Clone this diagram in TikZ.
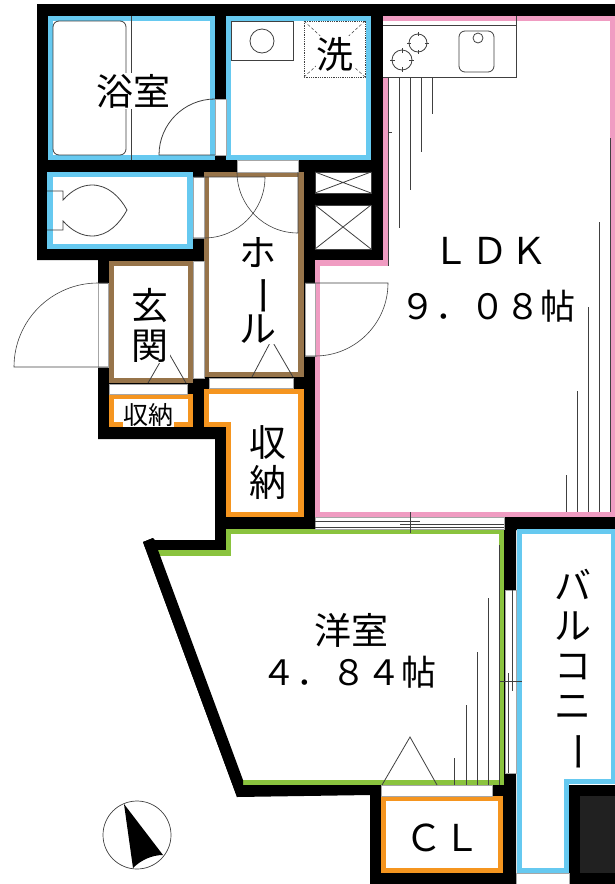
\documentclass[tikz,border=0pt]{standalone}
\usepackage{fontspec}
\usepackage{graphicx}
\setmainfont{Noto Sans CJK JP}
\newcommand{\lbl}{\fontsize{37}{40}\selectfont}
\newcommand{\lblsp}{\fontsize{37}{40}\selectfont\addfontfeature{LetterSpace=5}}
\newcommand{\vbar}{\vphantom{ル}\smash{\rotatebox[origin=c]{-90}{\scalebox{1.1}[1]{ー}}}}
\definecolor{wblue}{HTML}{66C9F0}
\definecolor{wpink}{HTML}{F09CC2}
\definecolor{wbrown}{HTML}{97744A}
\definecolor{worange}{HTML}{F5951F}
\definecolor{wgreen}{HTML}{8AC33E}
\tikzset{
  wall/.style={fill=black,draw=none},
  room/.style={fill=white,line width=5.5pt,miter limit=10},
  gap/.style={fill=white,draw=gray!70,line width=0.4pt},
  thin/.style={draw=black!75,line width=0.8pt},
  tag/.style={fill=white,inner sep=1pt,align=center,font=\lbl},
}
\begin{document}
\begin{tikzpicture}[x=1pt,y=-1pt]
\useasboundingbox (0,0) rectangle (615,884);
% walls
\fill[wall] (37,4) -- (615,4) -- (615,530) -- (516,530) -- (516,884) -- (370,884) -- (370,795) -- (237,797)
  -- (143,542) -- (153,538) -- (155,540) -- (215,540) -- (215,439) -- (98,439) -- (98,260) -- (37,260) -- cycle;
\fill[wall] (569,785) rectangle (615,884);
\fill[black!87] (580,796) rectangle (615,873);
% LDK
\draw[room,draw=wpink] (385.5,18.5) -- (612.5,18.5) -- (612.5,514.5) -- (317.5,514.5) -- (317.5,263) -- (385.5,263) -- cycle;
\fill[wpink] (611,16) rectangle (615,517);
\fill[wpink] (315,512) rectangle (615,517);
% bath, wash, toilet
\draw[room,draw=wblue] (50.5,18.5) rectangle (212.5,157.5);
\draw[room,draw=wblue] (228.5,18.5) rectangle (368.5,157.5);
\draw[room,draw=wblue] (50,174.5) rectangle (190,246.5);
% hall, entrance
\draw[room,draw=wbrown] (206.5,174.5) rectangle (301,374.5);
\draw[room,draw=wbrown] (111.5,263.5) rectangle (190.5,380.5);
% storages
\draw[room,draw=worange] (206.5,391.5) -- (301,391.5) -- (301,514.5) -- (228.5,514.5) -- (228.5,424.5) -- (206.5,424.5) -- cycle;
\draw[room,draw=worange] (111.5,396.5) rectangle (190.5,424.5);
\draw[room,draw=worange] (383.5,798.5) rectangle (500.5,870.5);
% western room
\fill[white] (158,553) -- (228.5,553) -- (228.5,531.5) -- (501.5,531.5) -- (501.5,782.5) -- (243,782.5) -- cycle;
\draw[line width=5.5pt,draw=wgreen,miter limit=10] (158,553) -- (228.5,553) -- (228.5,531.5) -- (501.5,531.5) -- (501.5,782.5) -- (243,782.5);
\fill[wall] (143,542) -- (153,538) -- (158,550) -- (243,780) -- (243,785) -- (237,797) -- cycle;
% balcony
\fill[white] (517,529) rectangle (615,785);
\fill[white] (517,785) rectangle (569,873);
\draw[wblue,line width=5.5pt,miter limit=10] (615,531.5) -- (519.5,531.5) -- (519.5,870.5) -- (566.5,870.5) -- (566.5,781.5) -- (615,781.5);
\fill[wblue] (611,529) rectangle (615,784);
\filldraw[white,draw=gray!70,line width=0.4pt] (516,873) rectangle (569,885);
% openings
\fill[gap] (215,99) rectangle (226,155);
\fill[gap] (237,160) rectangle (298,172);
\fill[gap] (193,177) rectangle (204,238);
\fill[gap] (193,261) rectangle (204,378);
\fill[gap] (98,283) rectangle (108,367);
\fill[gap] (305,283) rectangle (315,356);
\fill[gap] (209,378) rectangle (293,388);
\fill[gap] (109,384) rectangle (187,394);
\fill[gap] (381,785) rectangle (492,796);
\fill[gap] (505,590) rectangle (516,773);
\fill[gap] (315,517) rectangle (504,529);
% bath fittings
\draw[thin] (131,16) -- (131,160);
\draw[thin,rounded corners=6pt] (53,21) rectangle (126,155);
\draw[thin] (215,155) -- (159,155) arc[start angle=180,end angle=270,radius=56];
% wash fittings
\draw[thin] (231,21) rectangle (293,60);
\draw[thin] (262,41) circle[radius=12];
\draw[thin,densely dotted,line width=1pt] (304,21) rectangle (365,77);
\draw[thin,densely dashed,line width=0.5pt] (304,21) -- (365,77) (365,21) -- (304,77);
% toilet
\draw[thin] (47,191) -- (63,191) -- (63,200) .. controls (72,190) and (82,185) .. (92,185)
  .. controls (108,185) and (120,197) .. (127,210) .. controls (120,223) and (108,236) .. (92,236)
  .. controls (82,236) and (72,231) .. (63,221) -- (63,230) -- (47,230);
% closets
\draw[thin,fill=white] (315,172) rectangle (371,193);
\draw[thin] (315,172) -- (371,193) (371,172) -- (315,193);
\draw[thin,fill=white] (315,205) rectangle (371,249);
\draw[thin] (315,205) -- (371,249) (371,205) -- (315,249);
% door swings
\draw[thin,line width=0.6pt] (193,177) -- (265,177) arc[start angle=0,end angle=90,radius=61] -- (193,238);
\draw[thin,line width=0.6pt] (237,172) arc[start angle=180,end angle=90,radius=61] -- (298,172);
\draw[thin,line width=0.6pt] (108,367) -- (14,367) arc[start angle=180,end angle=270,radius=84] -- (108,283);
\draw[thin,line width=0.6pt] (305,283) -- (388,283) arc[start angle=0,end angle=90,radius=73] -- (305,356);
\draw[thin] (148,383) -- (167,350) -- (186,383);
\draw[thin] (252,377) -- (271.5,340) -- (293,377);
\draw[thin] (382,785) -- (410,737) -- (437,785);
% kitchen
\fill[white] (383,21) rectangle (516,77);
\draw[thin] (516,16) -- (516,77) -- (383,77);
\draw[thin] (383,25) -- (516,25);
\draw[thin,rounded corners=6pt] (459,31) rectangle (494,72);
\draw[thin] (478,38) circle[radius=5];
\draw[thin] (418,43) circle[radius=9];
\draw[thin] (402,60) circle[radius=10];
\draw[thin] (407,43) -- (411,43) (425,43) -- (429,43) (418,32) -- (418,36) (418,50) -- (418,54)
  (390,60) -- (395,60) (409,60) -- (414,60) (402,48) -- (402,53) (402,67) -- (402,72);
% LDK lines
\draw[thin] (388,77) -- (388,266) (388,132) -- (392,132);
\draw[thin] (399,77) -- (399,228) (410,77) -- (410,190) (421,77) -- (421,152) (432,77) -- (432,114);
\draw[thin] (610,138) -- (610,512) (599,222) -- (599,512) (588,307) -- (588,512) (577,391) -- (577,512) (566,475) -- (566,512);
% sliding door LDK / western room
\draw[thin] (315,521) -- (420,521) (400,524) -- (504,524) (315,527) -- (504,527) (410,512) -- (410,533);
% western room lines
\draw[thin] (454,758) -- (454,785) (466,705) -- (466,785) (477,652) -- (477,785) (488,598) -- (488,785) (499,545) -- (499,785);
\draw[thin] (508,673) -- (508,773) (512,590) -- (512,691) (499,681) -- (522,681);
% north
\draw[thin,line width=0.7pt] (137,835) circle[radius=34];
\fill[black] (124,804) -- (163,855) .. controls (152,855) and (141,860) .. (133,868) -- cycle;
% labels
\node[tag] (bath) at (133,91) {浴室};
\node[tag] (wash) at (335,54) {洗};
\node[tag] (hall) at (258,290) {ホ\\[-2pt]\vbar\\[-2pt]ル};
\node[tag] (ent) at (150,325) {玄\\関};
\node[tag,font=\fontsize{25}{28}\selectfont,inner sep=0.5pt] (st1) at (148,415) {収納};
\node[tag] (st2) at (268,463) {収\\納};
\node[tag,font=\lblsp] (ldk) at (490,251) {ＬＤＫ};
\node[tag,font=\fontsize{35}{38}\selectfont] (ldka) at (488,306) {９．０８帖};
\node[tag,font=\lbl] (west) at (351,630) {洋室};
\node[tag,font=\fontsize{35}{38}\selectfont] (westa) at (349,672) {４．８４帖};
\node[tag,font=\lblsp] (cl) at (443,838) {ＣＬ};
\node[tag] (balc) at (573,665) {バ\\ル\\コ\\ニ\\\vbar};
\end{tikzpicture}
\end{document}
